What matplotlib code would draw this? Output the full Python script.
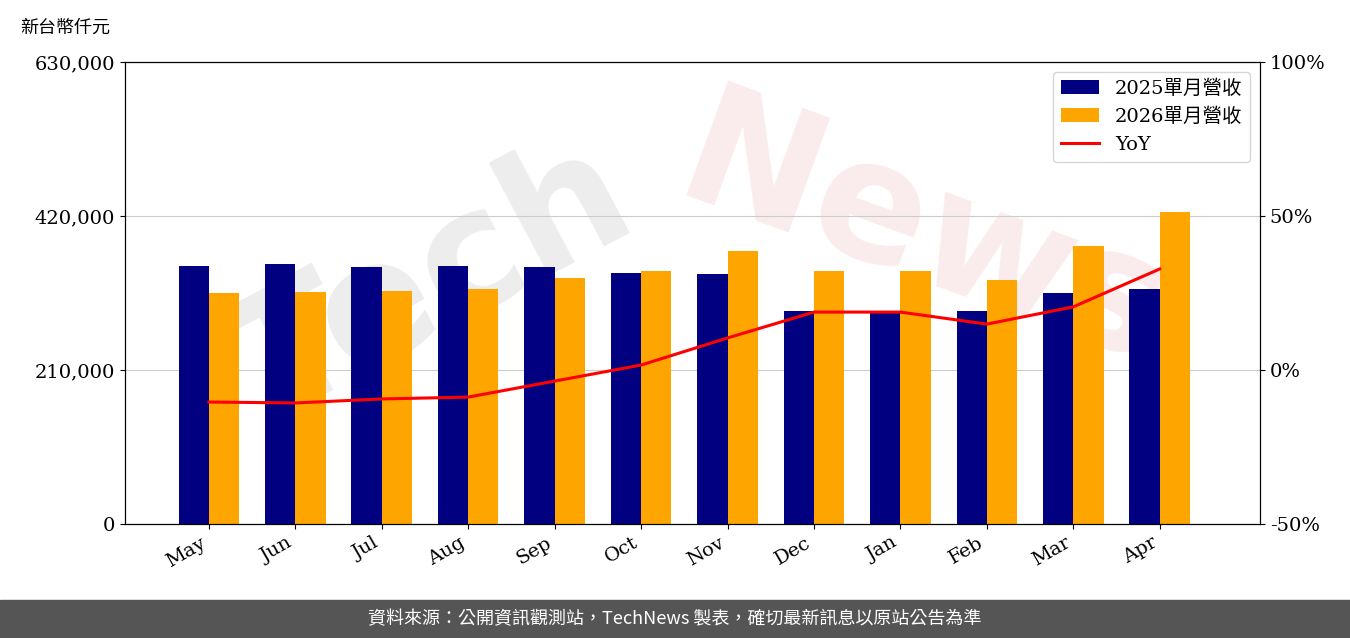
import matplotlib
matplotlib.use("Agg")
import matplotlib.pyplot as plt
import numpy as np
from matplotlib.ticker import FuncFormatter

months = ["May","Jun","Jul","Aug","Sep","Oct","Nov","Dec","Jan","Feb","Mar","Apr"]
rev2025 = [351800,354500,350400,351800,350400,342300,340900,290400,290400,290400,315000,320400]
rev2026 = [315000,316400,317700,320400,335500,345000,372300,345000,345000,332700,379100,425500]
yoy = [-10.4,-10.7,-9.4,-8.8,-3.6,1.6,10.4,18.8,18.8,14.9,20.5,32.8]

plt.rcParams['font.family'] = ['DejaVu Serif','Noto Sans CJK TC']
fig = plt.figure(figsize=(13.5,6.38), dpi=100)
ax = fig.add_axes([125/1350, 1-524/638, 1135/1350, 462/638])
x = np.arange(len(months)); w = 0.35
ax.text(0.47, 0.52, 'Tech', transform=ax.transAxes, fontsize=120, color='#999999', alpha=0.18,
        rotation=28, ha='right', va='center', family=['DejaVu Sans'], fontweight='bold', zorder=1, clip_on=True)
ax.text(0.47, 0.62, 'News', transform=ax.transAxes, fontsize=120, color='#e08080', alpha=0.15,
        rotation=-20, ha='left', va='center', family=['DejaVu Sans'], fontweight='bold', zorder=1, clip_on=True)
ax.bar(x-w/2, rev2025, w, color='#000080', label='2025單月營收', zorder=2)
ax.bar(x+w/2, rev2026, w, color='#FFA500', label='2026單月營收', zorder=2)
ax.set_ylim(0,630000); ax.set_yticks([0,210000,420000,630000])
ax.yaxis.set_major_formatter(FuncFormatter(lambda v,p: f"{int(v):,}"))
ax.grid(axis='y', color='#cccccc', zorder=0)
ax.set_xlim(-0.97, 12.16)
ax.set_xticks(x); ax.set_xticklabels(months, rotation=30, ha='right')
ax.tick_params(labelsize=14)
ax2 = ax.twinx()
ax2.plot(x, yoy, color='red', lw=2.2, label='YoY')
ax2.set_ylim(-50,100); ax2.set_yticks([-50,0,50,100])
ax2.yaxis.set_major_formatter(FuncFormatter(lambda v,p: f"{int(v)}%"))
ax2.tick_params(labelsize=14)
h1,l1 = ax.get_legend_handles_labels(); h2,l2 = ax2.get_legend_handles_labels()
ax2.legend(h1+h2, l1+l2, loc='upper right', fontsize=14)
fig.text(20/1350, 1-28/638, '新台幣仟元', fontsize=13, va='center', family=['Noto Sans CJK TC'])
fig.patches.append(plt.Rectangle((0,0),1,38/638, transform=fig.transFigure, color='#555555'))
fig.text(0.5, 19/638, '資料來源：公開資訊觀測站，TechNews 製表，確切最新訊息以原站公告為準', color='white',
         fontsize=13, ha='center', va='center', family=['Noto Sans CJK TC'])
fig.savefig('out.png')
